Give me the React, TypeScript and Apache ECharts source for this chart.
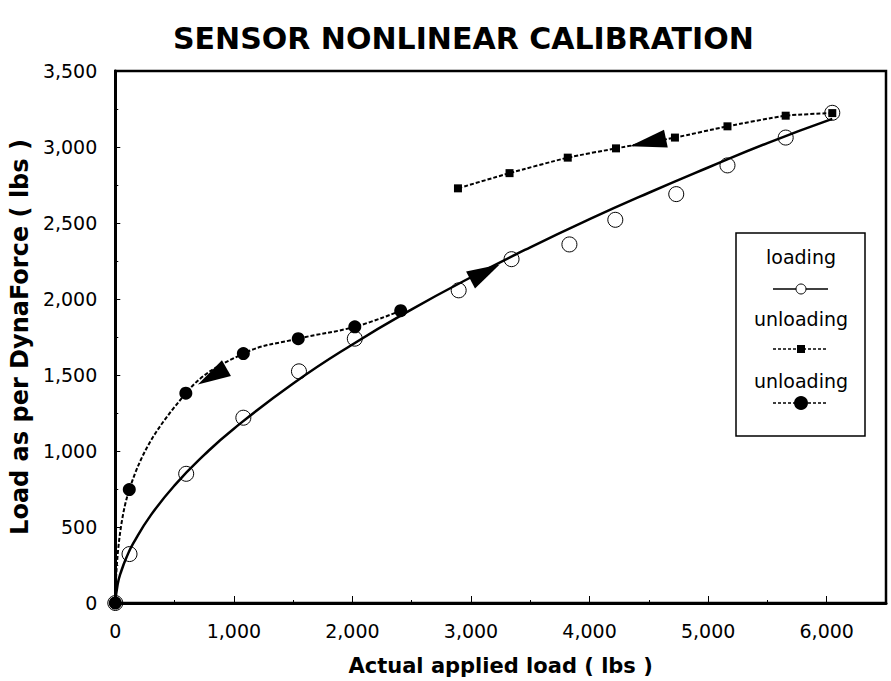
import React, { useEffect, useRef } from "react";
import * as echarts from "echarts";

const titleText = "SENSOR NONLINEAR CALIBRATION";
const xAxisName = "Actual applied load ( lbs )";
const yAxisName = "Load as per DynaForce ( lbs )";

// loading measurements (open circles)
const loadingX = [0, 120, 598, 1080, 1549, 2020, 2896, 3342, 3830, 4217, 4731, 5163, 5654, 6047];
const loadingY = [0, 322, 850, 1219, 1524, 1739, 2057, 2262, 2359, 2521, 2690, 2879, 3062, 3225];

// fitted loading curve (solid line)
const fitX = [0, 20, 50, 100, 150, 300, 500, 750, 1000, 1500, 2000, 2500, 3000, 3500, 4000, 4500, 5000, 5500, 6047];
const fitY = [0, 124, 209, 310, 390, 578, 774, 974, 1147, 1444, 1701, 1932, 2143, 2340, 2525, 2699, 2865, 3026, 3185];

// unloading (small squares)
const unload1X = [6047, 5654, 5163, 4720, 4223, 3816, 3325, 2890];
const unload1Y = [3223, 3206, 3136, 3062, 2991, 2930, 2828, 2728];

// unloading (big filled circles)
const unload2X = [2407, 2020, 1543, 1080, 595, 118, 0];
const unload2Y = [1923, 1817, 1739, 1641, 1380, 746, 0];

// direction arrows: [x, y, rotation]
const arrowLoading = [3119, 2176, -62];
const arrowUnload1 = [4491, 3030, 102];
const arrowUnload2 = [817, 1491, 120];

const legendLabels = ["loading", "unloading", "unloading"];

const xTicks = { min: 0, max: 6500, interval: 1000 };
const yTicks = { min: 0, max: 3500, interval: 500 };

const zip = (xs: number[], ys: number[]) => xs.map((x, i) => [x, ys[i]]);
const FONT = "DejaVu Sans";

export default function App() {
  const ref = useRef<HTMLDivElement>(null);
  useEffect(() => {
    if (!ref.current) return;
    const chart = echarts.init(ref.current, null, { renderer: "svg" });
    const fmt = (v: number) => v.toLocaleString("en-US");
    const arrowSeries = (a: number[], size: number[]) => ({
      type: "scatter",
      data: [[a[0], a[1]]],
      symbol: "triangle",
      symbolSize: size,
      symbolRotate: a[2],
      itemStyle: { color: "#000", opacity: 1 },
      z: 5,
      silent: true,
    });
    const lx = 801;
    chart.setOption({
      animation: false,
      backgroundColor: "#fff",
      title: {
        text: titleText,
        left: 173,
        top: 23,
        textStyle: { fontFamily: FONT, fontSize: 30, fontWeight: "bold", color: "#000" },
        padding: 0,
      },
      grid: {
        left: 115,
        right: 5,
        top: 71,
        bottom: 73,
        show: true,
        borderColor: "#000",
        borderWidth: 2.5,
        backgroundColor: "transparent",
      },
      xAxis: {
        type: "value",
        min: xTicks.min,
        max: xTicks.max,
        interval: xTicks.interval,
        name: xAxisName,
        nameLocation: "middle",
        nameGap: 52,
        nameTextStyle: { fontFamily: FONT, fontSize: 21, fontWeight: "bold", color: "#000" },
        axisLine: { show: true, lineStyle: { color: "#000", width: 3 } },
        axisTick: { show: true, inside: true, length: 7, lineStyle: { color: "#000", width: 1 } },
        minorTick: { show: true, splitNumber: 2, length: 3, lineStyle: { color: "#000", width: 1 } },
        splitLine: { show: false },
        axisLabel: {
          fontFamily: FONT,
          fontSize: 19,
          color: "#000",
          margin: 18,
          showMaxLabel: false,
          formatter: fmt,
        },
      },
      yAxis: {
        type: "value",
        min: yTicks.min,
        max: yTicks.max,
        interval: yTicks.interval,
        name: yAxisName,
        nameLocation: "middle",
        nameGap: 76,
        nameTextStyle: { fontFamily: FONT, fontSize: 24, fontWeight: "bold", color: "#000" },
        axisLine: { show: true, lineStyle: { color: "#000", width: 3 } },
        axisTick: { show: true, inside: true, length: 5, lineStyle: { color: "#000", width: 1 } },
        minorTick: { show: true, splitNumber: 2, length: 3, lineStyle: { color: "#000", width: 1 } },
        splitLine: { show: false },
        axisLabel: { fontFamily: FONT, fontSize: 19, color: "#000", margin: 18, formatter: fmt },
      },
      series: [
        {
          name: "unloading2",
          type: "line",
          data: zip(unload2X, unload2Y),
          smooth: 0.4,
          symbol: "circle",
          symbolSize: 13,
          showSymbol: true,
          lineStyle: { color: "#000", width: 2, type: [4, 2] },
          itemStyle: { color: "#000" },
          z: 3,
        },
        {
          name: "unloading1",
          type: "line",
          data: zip(unload1X, unload1Y),
          smooth: 0.2,
          symbol: "rect",
          symbolSize: 8,
          showSymbol: true,
          lineStyle: { color: "#000", width: 2, type: [4, 2] },
          itemStyle: { color: "#000" },
          z: 3,
        },
        {
          name: "fit",
          type: "line",
          data: zip(fitX, fitY),
          smooth: true,
          showSymbol: false,
          symbol: "none",
          lineStyle: { color: "#000", width: 2.5 },
          z: 4,
        },
        {
          name: "loading",
          type: "scatter",
          data: zip(loadingX, loadingY),
          symbol: "circle",
          symbolSize: 15,
          itemStyle: { color: "transparent", borderColor: "#000", borderWidth: 1, opacity: 1 },
          z: 4,
        },
        arrowSeries(arrowLoading, [19, 33]),
        arrowSeries(arrowUnload1, [18, 37]),
        arrowSeries(arrowUnload2, [18, 33]),
      ],
      graphic: [
        {
          type: "rect",
          z: 100,
          shape: { x: 736, y: 233, width: 129, height: 203 },
          style: { fill: "#fff", stroke: "#000", lineWidth: 1.5 },
        },
        {
          type: "text",
          z: 101,
          x: lx,
          y: 257,
          style: { text: legendLabels[0], font: `19px "${FONT}"`, fill: "#000", align: "center", verticalAlign: "middle" },
        },
        {
          type: "line",
          z: 101,
          shape: { x1: 773, y1: 289, x2: 828, y2: 289 },
          style: { stroke: "#000", lineWidth: 1.5 },
        },
        {
          type: "circle",
          z: 102,
          shape: { cx: lx, cy: 289, r: 5 },
          style: { fill: "#fff", stroke: "#000", lineWidth: 1 },
        },
        {
          type: "text",
          z: 101,
          x: lx,
          y: 319,
          style: { text: legendLabels[1], font: `19px "${FONT}"`, fill: "#000", align: "center", verticalAlign: "middle" },
        },
        {
          type: "line",
          z: 101,
          shape: { x1: 773, y1: 349, x2: 828, y2: 349 },
          style: { stroke: "#000", lineWidth: 1.5, lineDash: [3, 2] },
        },
        {
          type: "rect",
          z: 102,
          shape: { x: lx - 4, y: 345, width: 8, height: 8 },
          style: { fill: "#000" },
        },
        {
          type: "text",
          z: 101,
          x: lx,
          y: 381,
          style: { text: legendLabels[2], font: `19px "${FONT}"`, fill: "#000", align: "center", verticalAlign: "middle" },
        },
        {
          type: "line",
          z: 101,
          shape: { x1: 773, y1: 403, x2: 828, y2: 403 },
          style: { stroke: "#000", lineWidth: 1.5, lineDash: [3, 2] },
        },
        {
          type: "circle",
          z: 102,
          shape: { cx: lx, cy: 403, r: 7 },
          style: { fill: "#000" },
        },
      ],
    });
    return () => chart.dispose();
  }, []);
  return (
    <div
      ref={ref}
      style={{ position: "absolute", left: 0, top: 0, width: 891, height: 681, background: "#fff" }}
    />
  );
}
